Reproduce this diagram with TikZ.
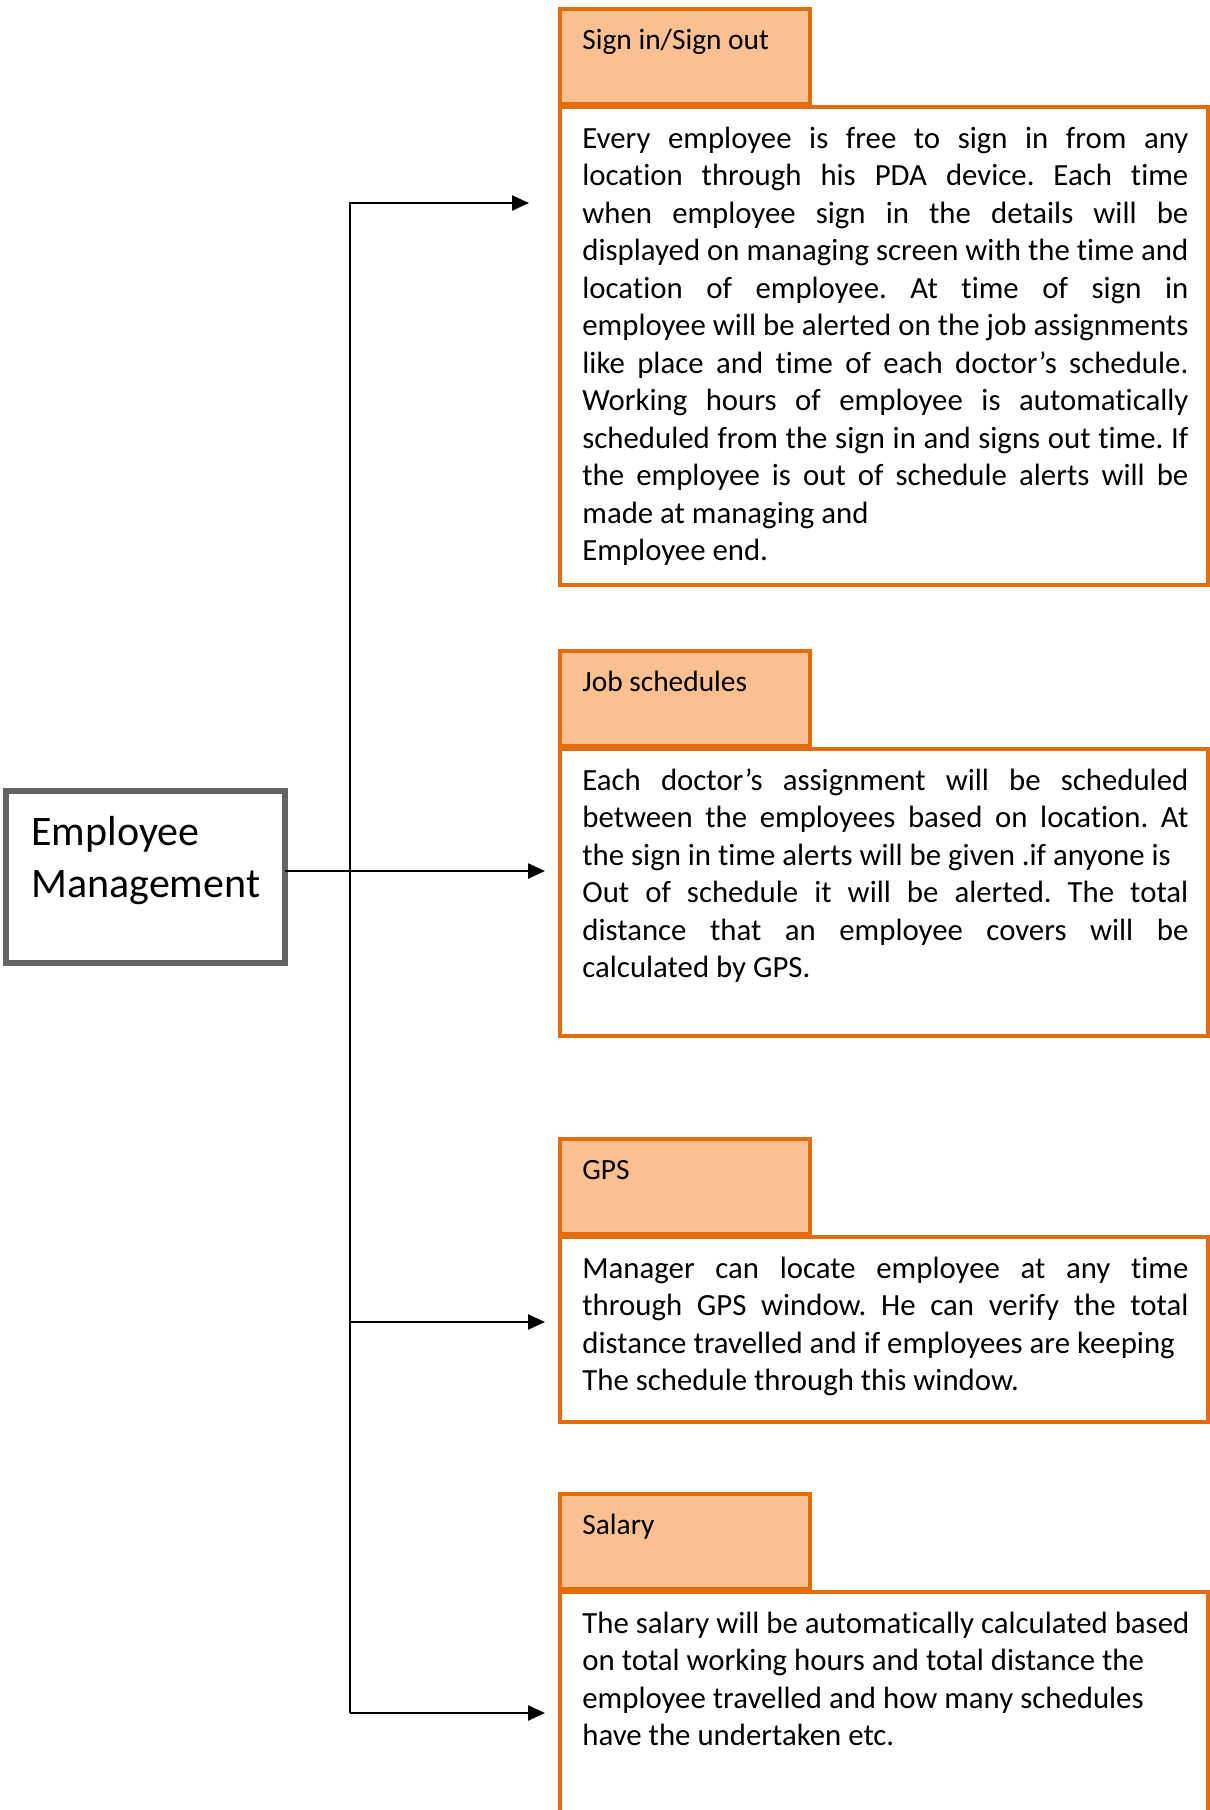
\documentclass[tikz,border=0pt]{standalone}
\usepackage{fontspec}
\setmainfont{Carlito}[Ligatures={NoCommon}]
\usetikzlibrary{arrows.meta}
\definecolor{orbord}{HTML}{E46C0A}
\definecolor{orfill}{HTML}{FAC090}
\definecolor{empgray}{HTML}{646464}
\frenchspacing
\newcommand\jl[1]{\hbox to\hsize{#1}}
\newcommand\rl[1]{\hbox{#1}}
\newcommand\bodyblock[1]{\vtop{\hsize=303pt\fontsize{15.4pt}{18.75pt}\selectfont #1}}
\tikzset{
  hdrbox/.style={draw=orbord, fill=orfill, line width=2.2pt, rectangle, outer sep=0pt, inner sep=0pt, anchor=north west, minimum width=125pt, minimum height=47.5pt},
  bodybox/.style={draw=orbord, line width=2.2pt, rectangle, outer sep=0pt, inner sep=0pt, anchor=north west, minimum width=324pt},
  hdrtext/.style={anchor=base west, inner sep=0pt, font=\fontsize{14.7pt}{18pt}\selectfont},
  bodytext/.style={anchor=base west, inner sep=0pt},
  empbox/.style={draw=empgray, line width=3pt, rectangle, outer sep=0pt, inner sep=0pt, anchor=north west, minimum width=139.5pt, minimum height=86pt},
  conn/.style={draw=black, line width=1.2pt, -{Triangle[length=8.5pt,width=7.5pt]}},
}
\begin{document}
\begin{tikzpicture}[x=0.5pt,y=-0.5pt]
\useasboundingbox (0,0) rectangle (1210,1810);
\clip (0,0) rectangle (1210,1810);
% central box
\node[empbox] (emp) at (6,791) {};
\node[anchor=base west, inner sep=0pt] (emptxt) at (31,845)
  {\vtop{\fontsize{21pt}{26pt}\selectfont\hbox{Employee}\hbox{Management}}};
% block 1
\node[hdrbox] (h1) at (560,9) {};
\node[bodybox, minimum height=239pt] (b1) at (560,107) {};
\node[hdrtext] (h1t) at (582,49) {Sign in/Sign out};
\node[bodytext] (b1t) at (582,148) {\bodyblock{%
\jl{Every employee is free to sign in from any}
\jl{location through his PDA device. Each time}
\jl{when employee sign in the details will be}
\jl{displayed on managing screen with the time and}
\jl{location of employee. At time of sign in}
\jl{employee will be alerted on the job assignments}
\jl{like place and time of each doctor’s schedule.}
\jl{Working hours of employee is automatically}
\jl{scheduled from the sign in and signs out time. If}
\jl{the employee is out of schedule alerts will be}
\rl{made at managing and}
\rl{Employee end.}}};
% block 2
\node[hdrbox] (h2) at (560,651) {};
\node[bodybox, minimum height=143.5pt] (b2) at (560,749) {};
\node[hdrtext] (h2t) at (582,691) {Job schedules};
\node[bodytext] (b2t) at (582,790) {\bodyblock{%
\jl{Each doctor’s assignment will be scheduled}
\jl{between the employees based on location. At}
\rl{the sign in time alerts will be given .if anyone is}
\jl{Out of schedule it will be alerted. The total}
\jl{distance that an employee covers will be}
\rl{calculated by GPS.}}};
% block 3
\node[hdrbox] (h3) at (560,1139) {};
\node[bodybox, minimum height=92.5pt] (b3) at (560,1237) {};
\node[hdrtext] (h3t) at (582,1179) {GPS};
\node[bodytext] (b3t) at (582,1278) {\bodyblock{%
\jl{Manager can locate employee at any time}
\jl{through GPS window. He can verify the total}
\rl{distance travelled and if employees are keeping}
\rl{The schedule through this window.}}};
% block 4
\node[hdrbox] (h4) at (560,1494) {};
\node[bodybox, minimum height=140pt] (b4) at (560,1592) {};
\node[hdrtext] (h4t) at (582,1534) {Salary};
\node[bodytext] (b4t) at (582,1633) {\bodyblock{%
\rl{The salary will be automatically calculated based}
\rl{on total working hours and total distance the}
\rl{employee travelled and how many schedules}
\rl{have the undertaken etc.}}};
% connectors
\coordinate (tb) at (350,1713);
\coordinate (a1) at (529,203);
\coordinate (a2) at (545,871);
\coordinate (a3) at (545,1322);
\coordinate (a4) at (545,1713);
\draw[conn] (tb) |- (a1);
\draw[conn] (tb) -- (a4);
\draw[conn] (tb |- a3) -- (a3);
\draw[conn] (emp.east |- a2) -- (a2);
\end{tikzpicture}
\end{document}
